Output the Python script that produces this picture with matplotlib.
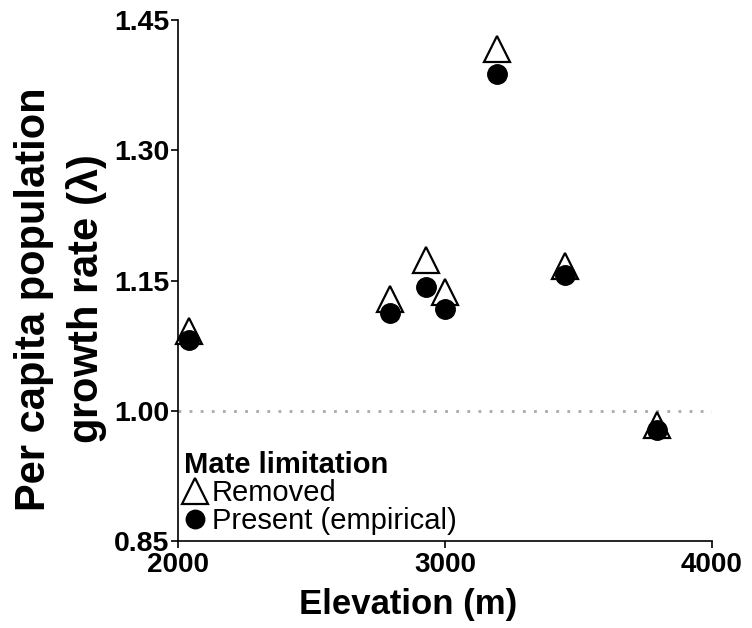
import numpy as np
import matplotlib.pyplot as plt

plt.rcParams['font.family'] = ['Liberation Sans', 'DejaVu Sans']
plt.rcParams['mathtext.fontset'] = 'custom'
plt.rcParams['mathtext.rm'] = 'Liberation Sans'

elevation = [2041, 2794, 2929, 3000, 3195, 3449, 3794]
lam_removed = [1.092, 1.129, 1.174, 1.137, 1.417, 1.167, 0.984]
lam_present = [1.082, 1.113, 1.143, 1.117, 1.388, 1.156, 0.978]

fig = plt.figure(figsize=(7.52, 6.28), dpi=100)
ax = fig.add_axes([0.2367, 0.1385, 0.71, 0.8295])

ax.axhline(1.0, color='#aaaaaa', linestyle=(0, (1, 3)), linewidth=2, zorder=1)
ax.plot(elevation, lam_removed, linestyle='none', marker='^', markersize=19,
        markerfacecolor='white', markeredgecolor='black', markeredgewidth=1.6,
        clip_on=False, zorder=3, label='Removed')
ax.plot(elevation, lam_present, linestyle='none', marker='o', markersize=14,
        color='black', clip_on=False, zorder=4, label='Present (empirical)')

ax.set_xlim(2000, 4000)
ax.set_ylim(0.85, 1.45)
ax.set_xticks([2000, 3000, 4000])
ax.set_yticks([0.85, 1.00, 1.15, 1.30, 1.45])
ax.set_yticklabels(['0.85', '1.00', '1.15', '1.30', '1.45'])
for s in ['top', 'right']:
    ax.spines[s].set_visible(False)
for s in ['left', 'bottom']:
    ax.spines[s].set_linewidth(1.2)
ax.tick_params(direction='out', length=5, width=1.2, labelsize=20.5, pad=1)
ax.tick_params(axis='x', labelsize=20, pad=3)
for lab in ax.get_xticklabels() + ax.get_yticklabels():
    lab.set_fontweight('bold')

ax.set_xlabel('Elevation (m)', fontsize=25, fontweight='bold', labelpad=7)
ax.xaxis.label.set_x(0.431)
ax.set_ylabel('Per capita population\ngrowth rate $\\mathregular{(\\lambda)}$',
              fontsize=30, fontweight='bold', labelpad=4, linespacing=1.3)
ax.yaxis.label.set_y(0.464)

leg = ax.legend(loc='lower left', bbox_to_anchor=(0.0, 0.0), frameon=False,
                title='Mate limitation', fontsize=21, handlelength=0.8,
                handletextpad=0.15, labelspacing=0.0, borderaxespad=0.0,
                borderpad=0.2, alignment='left', markerscale=0.95)
leg.get_title().set_fontsize(21)
leg.get_title().set_fontweight('bold')

fig.savefig('out.png', dpi=100)
